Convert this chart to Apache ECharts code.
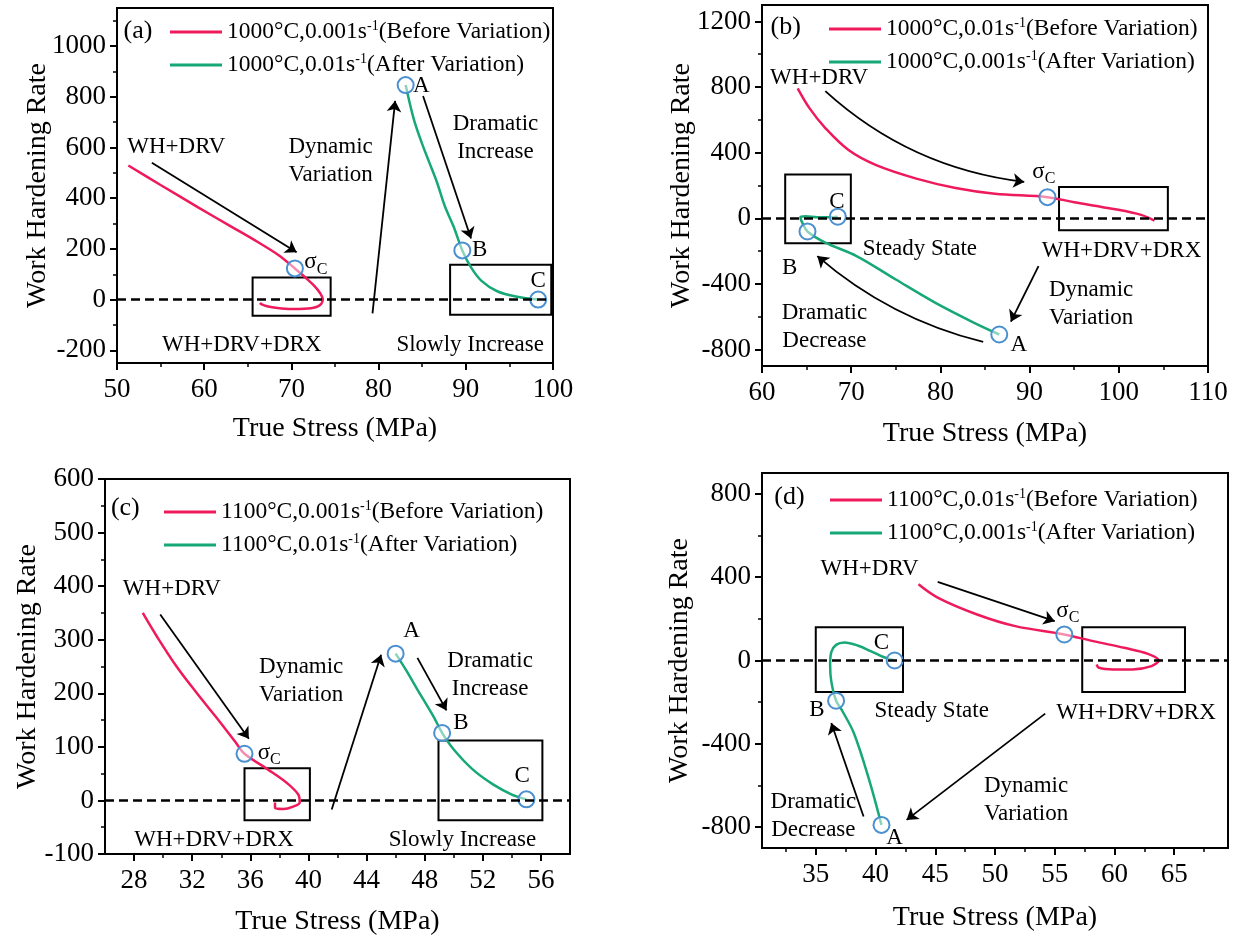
<!DOCTYPE html>
<html>
<head>
<meta charset="utf-8">
<script src="https://cdn.jsdelivr.net/npm/echarts@6/dist/echarts.min.js"></script>
<style>
  html, body { margin: 0; padding: 0; background: #ffffff; }
  #chart { width: 1238px; height: 940px; }
</style>
</head>
<body>
<div id="chart"></div>
<script>
// ---------- (a) 1000°C, 0.001 -> 0.01 s-1 ----------
const aNames = ['1000°C,0.001s-1(Before Variation)', '1000°C,0.01s-1(After Variation)'];
const aBeforeStress = [51.3, 55.0, 59.3, 63.0, 66.1, 68.5, 70.4, 71.6, 72.6, 73.3, 73.6, 73.4, 72.8, 71.5, 70.0, 68.4, 67.2, 66.6, 66.4];
const aBeforeRate   = [529, 452, 364, 290, 228, 176, 123, 87, 55, 25, 0, -18, -30, -36, -37, -33, -26, -19, -13];
const aAfterStress  = [83.1, 84.0, 84.9, 85.8, 86.7, 87.6, 88.6, 89.6, 90.6, 91.8, 93.6, 95.9, 98.3];
const aAfterRate    = [846, 716, 623, 542, 462, 368, 288, 194, 127, 74, 33, 11, 0];
const aKeyStress    = [70.4, 83.1, 89.6, 98.3];   // σc, A, B, C
const aKeyRate      = [123, 846, 194, 0];
const aXTicks = [50, 60, 70, 80, 90, 100];
const aXMinor = [55, 65, 75, 85, 95];
const aYTicks = [-200, 0, 200, 400, 600, 800, 1000];
const aYMinor = [-100, 100, 300, 500, 700, 900, 1100];

// ---------- (b) 1000°C, 0.01 -> 0.001 s-1 ----------
const bNames = ['1000°C,0.01s-1(Before Variation)', '1000°C,0.001s-1(After Variation)'];
const bBeforeStress = [64.0, 65.3, 67.1, 69.7, 72.8, 77.3, 81.7, 86.1, 92.0, 95.0, 99.4, 102.5, 104.0];
const bBeforeRate   = [792, 673, 550, 416, 324, 242, 185, 150, 129, 98, 57, 21, -14];
const bAfterStress  = [86.6, 83.9, 79.5, 75.0, 70.6, 67.1, 65.1, 64.5, 64.3, 64.9, 66.2, 67.5, 68.5];
const bAfterRate    = [-708, -640, -517, -373, -230, -148, -80, -25, 6, 12, 6, 6, 10];
const bKeyStress    = [92.0, 86.6, 65.1, 68.5];
const bKeyRate      = [129, -708, -80, 10];
const bXTicks = [60, 70, 80, 90, 100, 110];
const bXMinor = [65, 75, 85, 95, 105];
const bYTicks = [-800, -400, 0, 400, 800, 1200];
const bYMinor = [-600, -200, 200, 600, 1000];

// ---------- (c) 1100°C, 0.001 -> 0.01 s-1 ----------
const cNames = ['1100°C,0.001s-1(Before Variation)', '1100°C,0.01s-1(After Variation)'];
const cBeforeStress = [28.6, 29.55, 30.9, 32.3, 33.6, 35.0, 35.6, 37.2, 38.5, 39.3, 39.4, 38.9, 38.3, 37.7, 37.7];
const cBeforeRate   = [350, 307, 251, 201, 157, 108, 87, 58, 33, 11, -4, -12, -16, -14, -4];
const cAfterStress  = [46.0, 46.7, 47.5, 48.6, 49.2, 50.0, 51.3, 52.7, 54.0, 55.0];
const cAfterRate    = [274, 244, 207, 157, 126, 95, 58, 30, 11, 2];
const cKeyStress    = [35.6, 46.0, 49.2, 55.0];
const cKeyRate      = [87, 274, 126, 2];
const cXTicks = [28, 32, 36, 40, 44, 48, 52, 56];
const cXMinor = [30, 34, 38, 42, 46, 50, 54];
const cYTicks = [-100, 0, 100, 200, 300, 400, 500, 600];
const cYMinor = [-50, 50, 150, 250, 350, 450, 550];

// ---------- (d) 1100°C, 0.01 -> 0.001 s-1 ----------
const dNames = ['1100°C,0.01s-1(Before Variation)', '1100°C,0.001s-1(After Variation)'];
const dBeforeStress = [43.6, 45.2, 48.5, 51.7, 55.8, 58.2, 60.8, 62.8, 63.7, 63.1, 61.5, 59.9, 58.7, 58.5];
const dBeforeRate   = [366, 302, 221, 165, 125, 93, 61, 32, 0, -27, -43, -43, -35, -19];
const dAfterStress  = [40.5, 39.4, 38.2, 37.2, 36.7, 36.3, 36.2, 36.3, 36.7, 37.4, 38.5, 39.6, 40.6, 41.6];
const dAfterRate    = [-789, -560, -350, -240, -193, -100, -20, 40, 75, 86, 72, 45, 18, 0];
const dKeyStress    = [55.8, 40.5, 36.7, 41.6];
const dKeyRate      = [125, -789, -193, 0];
const dXTicks = [35, 40, 45, 50, 55, 60, 65];
const dXMinor = [32.5, 37.5, 42.5, 47.5, 52.5, 57.5, 62.5, 67.5];
const dYTicks = [-800, -400, 0, 400, 800];
const dYMinor = [-600, -200, 200, 600];

// ---------- styling ----------
const FONT = 'Liberation Serif';
const INK = '#000000';
const RED = '#ef1a5c';
const GREEN = '#17a878';
const RING = '#4a90d0';
const SIGMA_C = '{g|σ}{sub|C}';

const pairs = (xs, ys) => xs.map((x, i) => [x, ys[i]]);

// Per-panel frame, legend placement and annotation layer (in data units)
const panels = [
  {
    tag: '(a)', names: aNames,
    grid: { left: 117, top: 8, width: 436, height: 355 },
    x: { min: 50, max: 100, ticks: aXTicks, minor: aXMinor, gap: 52 },
    y: { min: -250, max: 1150, ticks: aYTicks, minor: aYMinor, gap: 65 },
    legend: { left: 165, top: 14 },
    before: pairs(aBeforeStress, aBeforeRate), after: pairs(aAfterStress, aAfterRate),
    keys: pairs(aKeyStress, aKeyRate),
    notes: [
      [52.4, 1058, '(a)', 26], [56.8, 602, 'WH+DRV'], [74.5, 548, 'Dynamic\nVariation'],
      [93.4, 638, 'Dramatic\nIncrease'], [72.8, 147, SIGMA_C], [84.9, 843, 'A'],
      [91.6, 194, 'B'], [98.3, 74, 'C'], [64.3, -178, 'WH+DRV+DRX'], [90.5, -178, 'Slowly Increase']
    ],
    boxes: [[65.55, 87, 74.5, -64], [88.2, 137, 99.8, -60]],
    arrows: [[54.0, 540, 70.6, 187, 0], [79.3, -54, 81.9, 784, 0], [85.1, 803, 90.6, 241, 0]]
  },
  {
    tag: '(b)', names: bNames,
    grid: { left: 762, top: 5, width: 446, height: 361 },
    x: { min: 60, max: 110, ticks: bXTicks, minor: bXMinor, gap: 54 },
    y: { min: -900, max: 1300, ticks: bYTicks, minor: bYMinor, gap: 66 },
    legend: { left: 824, top: 11 },
    before: pairs(bBeforeStress, bBeforeRate), after: pairs(bAfterStress, bAfterRate),
    keys: pairs(bKeyStress, bKeyRate),
    notes: [
      [62.65, 1165, '(b)', 26], [66.4, 857, 'WH+DRV'], [91.6, 283, SIGMA_C], [68.4, 98, 'C'],
      [77.7, -189, 'Steady State'], [63.1, -302, 'B'], [100.3, -199, 'WH+DRV+DRX'],
      [96.9, -521, 'Dynamic\nVariation'], [67.0, -665, 'Dramatic\nDecrease'], [88.8, -773, 'A']
    ],
    boxes: [[62.6, 267, 69.96, -152], [93.3, 191, 105.5, -72]],
    arrows: [[67.1, 775, 89.4, 222, -0.16], [84.8, -753, 66.2, -230, 0.12], [91.0, -291, 87.9, -630, 0]]
  },
  {
    tag: '(c)', names: cNames,
    grid: { left: 105, top: 479, width: 465, height: 375 },
    x: { min: 26, max: 58, ticks: cXTicks, minor: cXMinor, gap: 54 },
    y: { min: -100, max: 600, ticks: cYTicks, minor: cYMinor, gap: 63 },
    legend: { left: 159, top: 494 },
    before: pairs(cBeforeStress, cBeforeRate), after: pairs(cAfterStress, cAfterRate),
    keys: pairs(cKeyStress, cKeyRate),
    notes: [
      [27.4, 546, '(c)', 26], [30.6, 394, 'WH+DRV'], [39.5, 223, 'Dynamic\nVariation'],
      [47.1, 316, 'A'], [52.5, 235, 'Dramatic\nIncrease'], [50.5, 145, 'B'], [37.3, 89, SIGMA_C],
      [54.7, 45, 'C'], [33.5, -73, 'WH+DRV+DRX'], [50.6, -73, 'Slowly Increase']
    ],
    boxes: [[35.6, 60, 40.1, -37], [48.95, 112, 56.1, -37]],
    arrows: [[29.8, 347, 35.9, 115, 0], [41.6, -17, 45.0, 272, 0], [47.5, 266, 49.5, 168, 0]]
  },
  {
    tag: '(d)', names: dNames,
    grid: { left: 762, top: 473, width: 466, height: 375 },
    x: { min: 30.5, max: 69.5, ticks: dXTicks, minor: dXMinor, gap: 56 },
    y: { min: -900, max: 900, ticks: dYTicks, minor: dYMinor, gap: 68 },
    legend: { left: 825, top: 482 },
    before: pairs(dBeforeStress, dBeforeRate), after: pairs(dAfterStress, dAfterRate),
    keys: pairs(dKeyStress, dKeyRate),
    notes: [
      [32.8, 783, '(d)', 26], [39.5, 438, 'WH+DRV'], [56.1, 237, SIGMA_C], [40.5, 85, 'C'],
      [35.1, -236, 'B'], [44.7, -244, 'Steady State'], [61.8, -252, 'WH+DRV+DRX'],
      [52.6, -669, 'Dynamic\nVariation'], [34.8, -744, 'Dramatic\nDecrease'], [41.6, -854, 'A']
    ],
    boxes: [[35.0, 160, 42.3, -151], [57.3, 160, 65.9, -151]],
    arrows: [[45.2, 377, 55.0, 189, 0], [39.0, -749, 36.3, -300, 0], [54.2, -255, 42.6, -765, 0]]
  }
];

const textBase = { fontFamily: FONT, color: INK };

function mainAxis(dim, p, gridIndex) {
  const a = p[dim];
  return {
    type: 'value', gridIndex, min: a.min, max: a.max,
    position: dim === 'x' ? 'bottom' : 'left',
    name: dim === 'x' ? 'True Stress (MPa)' : 'Work Hardening Rate',
    nameLocation: 'middle', nameGap: a.gap, nameMoveOverlap: false,
    nameTextStyle: { ...textBase, fontSize: 28 },
    axisLine: { show: true, onZero: false, lineStyle: { color: INK, width: 2 } },
    axisTick: { show: true, inside: false, length: 7, customValues: a.ticks, lineStyle: { color: INK, width: 2 } },
    axisLabel: {
      show: true, customValues: a.ticks, margin: dim === 'x' ? 13 : 11,
      ...textBase, fontSize: 27, formatter: v => String(v)
    },
    splitLine: { show: false }
  };
}

function minorAxis(dim, p, gridIndex) {
  const a = p[dim];
  return {
    type: 'value', gridIndex, min: a.min, max: a.max,
    position: dim === 'x' ? 'bottom' : 'left',
    axisLine: { show: false, onZero: false },
    axisTick: { show: true, inside: false, length: 4, customValues: a.minor, lineStyle: { color: INK, width: 1.5 } },
    axisLabel: { show: false },
    splitLine: { show: false }
  };
}

const option = {
  animation: false,
  backgroundColor: '#ffffff',
  grid: [], xAxis: [], yAxis: [], legend: [], series: []
};

panels.forEach((p, i) => {
  option.grid.push({
    ...p.grid, show: true, borderColor: INK, borderWidth: 2,
    backgroundColor: 'transparent', containLabel: false, outerBoundsMode: 'none'
  });
  option.xAxis.push(mainAxis('x', p, i), minorAxis('x', p, i));
  option.yAxis.push(mainAxis('y', p, i), minorAxis('y', p, i));
  const xi = 2 * i, yi = 2 * i;

  option.legend.push({
    data: p.names, orient: 'vertical', left: p.legend.left, top: p.legend.top,
    icon: 'rect', itemWidth: 52, itemHeight: 3, itemGap: 8, selectedMode: false,
    textStyle: {
      ...textBase, fontSize: 23.5,
      rich: {
        t: { fontFamily: FONT, fontSize: 23.5, color: INK, lineHeight: 26 },
        sup: { fontFamily: FONT, fontSize: 14, color: INK, verticalAlign: 'top', lineHeight: 14 }
      }
    },
    formatter: name => {
      const parts = name.split('s-1');
      return '{t|' + parts[0] + 's}{sup|-1}{t|' + parts[1] + '}';
    }
  });

  option.series.push({
    type: 'line', name: p.names[0], xAxisIndex: xi, yAxisIndex: yi,
    data: p.before, symbol: 'none', showSymbol: false, smooth: 0.35, z: 3,
    color: RED, lineStyle: { color: RED, width: 2.5 },
    markLine: {
      silent: true, symbol: ['none', 'none'], animation: false,
      label: { show: false },
      lineStyle: { color: INK, width: 2.5, type: [9, 5] },
      data: [{ yAxis: 0 }]
    }
  });
  option.series.push({
    type: 'line', name: p.names[1], xAxisIndex: xi, yAxisIndex: yi,
    data: p.after, symbol: 'none', showSymbol: false, smooth: 0.35, z: 3,
    color: GREEN, lineStyle: { color: GREEN, width: 2.5 }
  });
  option.series.push({
    type: 'scatter', name: 'key points ' + p.tag, xAxisIndex: xi, yAxisIndex: yi,
    data: p.keys, symbol: 'circle', symbolSize: 16, z: 4, silent: true,
    itemStyle: { color: 'rgba(255,255,255,0.5)', borderColor: RING, borderWidth: 2, opacity: 1 }
  });
  // text annotations and the framed regions
  option.series.push({
    type: 'scatter', name: 'notes ' + p.tag, xAxisIndex: xi, yAxisIndex: yi,
    symbolSize: 0, z: 6, silent: true,
    data: p.notes.map(n => ({
      value: [n[0], n[1]], note: n[2],
      label: n[3] ? { fontSize: n[3] } : undefined
    })),
    itemStyle: { color: 'rgba(0,0,0,0)', opacity: 1 },
    label: {
      show: true, position: [0, 0], align: 'center', verticalAlign: 'middle',
      ...textBase, opacity: 1, fontSize: 23, lineHeight: 28,
      formatter: prm => prm.data.note,
      rich: {
        g: { fontFamily: FONT, fontSize: 23, color: INK, lineHeight: 30 },
        sub: { fontFamily: FONT, fontSize: 16, color: INK, verticalAlign: 'bottom', lineHeight: 16 }
      }
    },
    markArea: {
      silent: true, animation: false,
      itemStyle: { color: 'rgba(0,0,0,0)', borderColor: INK, borderWidth: 2 },
      label: { show: false },
      data: p.boxes.map(b => [{ coord: [b[0], b[1]] }, { coord: [b[2], b[3]] }])
    }
  });
  // arrows (straight or bowed) between annotation and curve
  option.series.push({
    type: 'lines', name: 'arrows ' + p.tag, coordinateSystem: 'cartesian2d',
    xAxisIndex: xi, yAxisIndex: yi, z: 5, silent: true,
    symbol: ['none', 'arrow'], symbolSize: 11,
    lineStyle: { color: INK, width: 1.8, opacity: 1 },
    data: p.arrows.map(a => ({
      coords: [[a[0], a[1]], [a[2], a[3]]],
      lineStyle: { curveness: a[4] }
    }))
  });
});

const chart = echarts.init(document.getElementById('chart'), null, { renderer: 'canvas' });
chart.setOption(option);
</script>
</body>
</html>
